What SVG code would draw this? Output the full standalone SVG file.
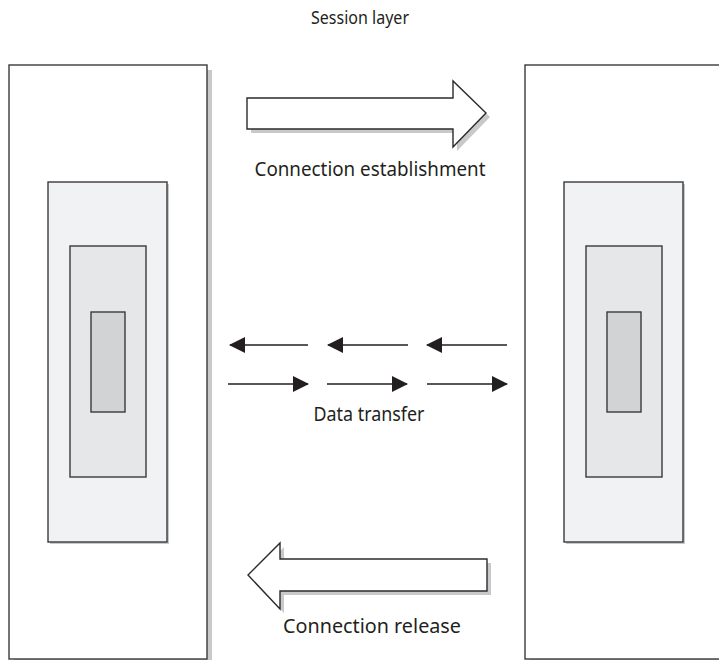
<svg xmlns="http://www.w3.org/2000/svg" width="719" height="660" viewBox="0 0 719 660">
<style>
.box{stroke:#3a3a3c;stroke-width:1.4}
.l0{fill:#ffffff}
.l1{fill:#f1f2f3}
.l2{fill:#e6e7e8}
.l3{fill:#d1d3d4}
.sh{fill:#c8c9cb;stroke:none}
.big{fill:#ffffff;stroke:#2b2b2d;stroke-width:1.4;stroke-linejoin:miter}
.ln{stroke:#231f20;stroke-width:1.5;fill:none}
text{font-family:"Noto Sans","Liberation Sans",sans-serif;fill:#231f20;text-anchor:middle}
</style>
<defs>
<marker id="ah" markerWidth="16" markerHeight="16" viewBox="0 0 16 16" refX="15" refY="8" orient="auto" markerUnits="userSpaceOnUse">
<path d="M0,0 L16,8 L0,16 Z" fill="#231f20"/>
</marker>
</defs>
<text x="360" y="24" font-size="18" textLength="98" lengthAdjust="spacingAndGlyphs">Session layer</text>
<g id="left-host">
<rect class="sh" x="14" y="70" width="198" height="594"/>
<rect class="box l0" x="9" y="65" width="198" height="594"/>
<rect class="sh" x="50" y="184" width="119" height="360"/>
<rect class="box l1" x="48" y="182" width="119" height="360"/>
<rect class="box l2" x="70" y="246" width="76" height="231"/>
<rect class="box l3" x="91" y="312" width="34" height="100"/>
</g>
<g id="right-host">
<rect class="sh" x="530" y="70" width="200" height="594"/>
<rect class="box l0" x="525" y="65" width="200" height="594"/>
<rect class="sh" x="566" y="184" width="119" height="360"/>
<rect class="box l1" x="564" y="182" width="119" height="360"/>
<rect class="box l2" x="586" y="246" width="76" height="231"/>
<rect class="box l3" x="607" y="312" width="34" height="100"/>
</g>
<g id="connectors">
<g id="establish">
<path class="sh" d="M251,102 L457,102 L457,85 L490,117 L457,151 L457,133 L251,133 Z"/>
<path class="big" d="M247,98 L453,98 L453,81 L486,113 L453,147 L453,129 L247,129 Z"/>
</g>
<g id="release">
<path class="sh" d="M491,563 L284,563 L284,547 L252,579 L284,613 L284,595 L491,595 Z"/>
<path class="big" d="M487,559 L280,559 L280,543 L248,575 L280,609 L280,591 L487,591 Z"/>
</g>
<g id="data">
<line class="ln" x1="308" y1="345" x2="230" y2="345" marker-end="url(#ah)"/>
<line class="ln" x1="408" y1="345" x2="328" y2="345" marker-end="url(#ah)"/>
<line class="ln" x1="507" y1="345" x2="427" y2="345" marker-end="url(#ah)"/>
<line class="ln" x1="228" y1="384" x2="308" y2="384" marker-end="url(#ah)"/>
<line class="ln" x1="327" y1="384" x2="407" y2="384" marker-end="url(#ah)"/>
<line class="ln" x1="427" y1="384" x2="507" y2="384" marker-end="url(#ah)"/>
</g>
</g>
<text x="370" y="176" font-size="20" textLength="231" lengthAdjust="spacingAndGlyphs">Connection establishment</text>
<text x="369" y="421" font-size="20" textLength="111" lengthAdjust="spacingAndGlyphs">Data transfer</text>
<text x="372" y="633" font-size="20" textLength="178" lengthAdjust="spacingAndGlyphs">Connection release</text>
</svg>
